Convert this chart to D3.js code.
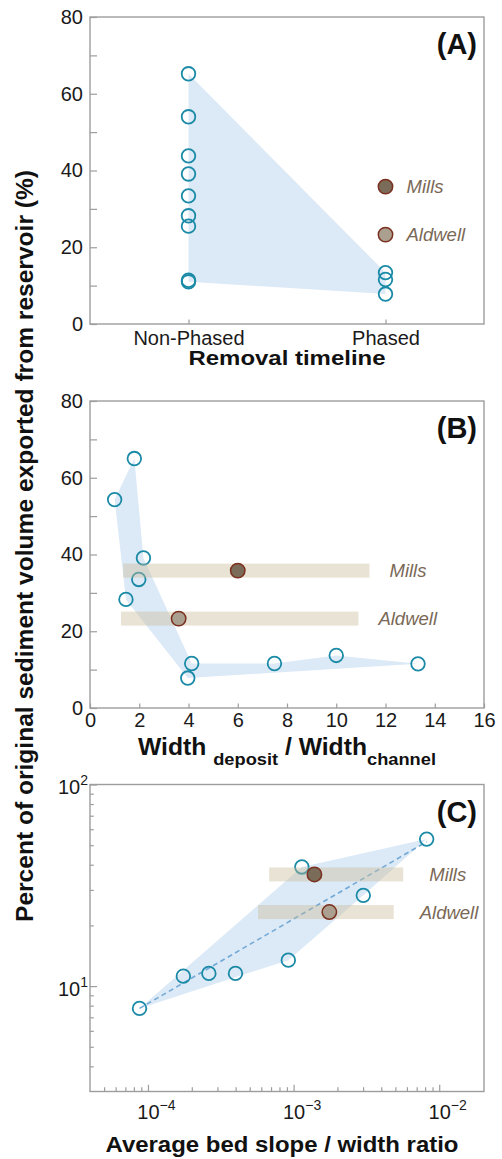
<!DOCTYPE html>
<html>
<head>
<meta charset="utf-8">
<script src="https://cdn.jsdelivr.net/npm/d3@7"></script>
<style>
body { margin: 0; background: #fff; }
svg { font-family: "Liberation Sans", Arial, Helvetica, sans-serif; }
</style>
</head>
<body>
<div id="chart"></div>
<script>
// (A) removal timeline
var timelineCats = ["Non-Phased", "Phased"];
var nonPhasedPct = [65.2, 54.0, 43.8, 39.1, 33.4, 28.2, 25.5, 11.4, 11.0];
var phasedPct = [13.4, 11.6, 7.8];
var pctTicks = [0, 20, 40, 60, 80];
var pctMinorTicks = [10, 30, 50, 70];

// the two highlighted reservoirs
var caseNames = ["Mills", "Aldwell"];
var casePct = [35.8, 23.3];

// (B) deposit width / channel width
var widthRatio = [1.0, 1.8, 2.17, 1.98, 1.46, 4.13, 3.97, 7.49, 10.0, 13.32];
var widthPct = [54.3, 65.0, 39.1, 33.5, 28.3, 11.6, 7.8, 11.6, 13.7, 11.5];
var widthOutline = [0, 1, 2, 5, 7, 8, 9, 6, 4];
var caseWidthRatio = [6.0, 3.6];
var caseWidthLo = [1.35, 1.26];
var caseWidthHi = [11.35, 10.9];
var widthTicks = [0, 2, 4, 6, 8, 10, 12, 14, 16];

// (C) bed slope / width ratio
var slopeRatio = [8.75e-5, 1.75e-4, 2.62e-4, 3.99e-4, 9.2e-4, 1.14e-3, 3.01e-3, 8.2e-3];
var slopePct = [7.75, 11.2, 11.56, 11.56, 13.45, 39.0, 28.2, 53.6];
var caseSlope = [1.39e-3, 1.76e-3];
var caseSlopeLo = [6.8e-4, 5.7e-4];
var caseSlopeHi = [5.66e-3, 4.87e-3];
var slopeFitX = [8.75e-5, 8.2e-3];
var slopeFitPct = [7.75, 52];
var slopeTicks = [1e-4, 1e-3, 1e-2];
var slopeMinorTicks = [5e-5, 6e-5, 7e-5, 8e-5, 9e-5, 2e-4, 3e-4, 4e-4, 5e-4, 6e-4, 7e-4, 8e-4, 9e-4,
	2e-3, 3e-3, 4e-3, 5e-3, 6e-3, 7e-3, 8e-3, 9e-3];
var logPctTicks = [10, 100];
var logPctMinorTicks = [4, 5, 6, 7, 8, 9, 20, 30, 40, 50, 60, 70, 80, 90];

var left = 90, right = 484, ph = 307;
var tops = [17, 401, 784.5];
var font = '"Liberation Sans", Arial, Helvetica, sans-serif';

var frameColor = '#9d9d9d';
var ptColor = '#1a8aa6';
var hullColor = '#dce9f6';
var barColor = 'rgba(200,188,152,0.42)';
var caseFill = ['#7b6b59', '#aba08f'];
var caseStroke = '#7b2f1f';
var caseText = '#7a6856';

var svg = d3.select('#chart').append('svg')
	.attr('width', 502)
	.attr('height', 1159);

function styleAxis(g) {
	g.attr('font-family', font);
	g.select('.domain').remove();
	g.selectAll('.tick line').attr('stroke', frameColor).attr('stroke-width', 1.2);
	g.selectAll('.tick text').attr('fill', '#1a1a1a').attr('font-size', '20px');
}

function drawFrame(g) {
	g.append('rect')
		.attr('x', left).attr('y', 0)
		.attr('width', right - left).attr('height', ph)
		.attr('fill', 'none')
		.attr('stroke', frameColor)
		.attr('stroke-width', 1.4);
}

function panelLabel(g, txt) {
	g.append('text')
		.attr('x', 477).attr('y', 37)
		.attr('text-anchor', 'end')
		.attr('font-size', '29px')
		.attr('font-weight', 'bold')
		.attr('fill', '#111')
		.text(txt);
}

function openCircles(g, pts) {
	g.selectAll('circle.open')
		.data(pts)
		.enter()
		.append('circle')
		.attr('class', 'open')
		.attr('cx', function (d) { return d[0]; })
		.attr('cy', function (d) { return d[1]; })
		.attr('r', 6.8)
		.attr('fill', 'none')
		.attr('stroke', ptColor)
		.attr('stroke-width', 1.8);
}

function caseCircles(g, xs, ys) {
	g.selectAll('circle.case')
		.data(caseNames)
		.enter()
		.append('circle')
		.attr('class', 'case')
		.attr('cx', function (d, i) { return xs[i]; })
		.attr('cy', function (d, i) { return ys[i]; })
		.attr('r', 7.2)
		.attr('fill', function (d, i) { return caseFill[i]; })
		.attr('stroke', caseStroke)
		.attr('stroke-width', 1.5);
}

function caseLabels(g, xs, ys) {
	g.selectAll('text.case')
		.data(caseNames)
		.enter()
		.append('text')
		.attr('class', 'case')
		.attr('x', function (d, i) { return xs[i]; })
		.attr('y', function (d, i) { return ys[i]; })
		.attr('dy', '0.36em')
		.attr('font-size', '18.5px')
		.attr('font-style', 'italic')
		.attr('fill', caseText)
		.text(function (d) { return d; });
}

function caseBars(g, x, y, lo, hi) {
	g.selectAll('rect.bar')
		.data(caseNames)
		.enter()
		.append('rect')
		.attr('class', 'bar')
		.attr('x', function (d, i) { return x(lo[i]); })
		.attr('width', function (d, i) { return x(hi[i]) - x(lo[i]); })
		.attr('y', function (d, i) { return y(casePct[i]) - 7; })
		.attr('height', 14)
		.attr('fill', barColor);
}

// ---------- panel A ----------
var gA = svg.append('g').attr('transform', 'translate(0,' + tops[0] + ')');
var xA = d3.scalePoint().domain(timelineCats).range([left, right]).padding(0.5);
var yA = d3.scaleLinear().domain([0, 80]).range([ph, 0]);

var ptsA = nonPhasedPct.map(function (v) { return [xA('Non-Phased'), yA(v)]; })
	.concat(phasedPct.map(function (v) { return [xA('Phased'), yA(v)]; }));

gA.append('path')
	.attr('d', 'M' + d3.polygonHull(ptsA).join('L') + 'Z')
	.attr('fill', hullColor);
openCircles(gA, ptsA);
caseCircles(gA, caseNames.map(function () { return xA('Phased'); }), casePct.map(yA));
caseLabels(gA, caseNames.map(function () { return xA('Phased') + 21; }), casePct.map(yA));
drawFrame(gA);

gA.append('g').attr('transform', 'translate(' + left + ',0)')
	.call(d3.axisLeft(yA).tickValues(pctTicks).tickSize(-7).tickPadding(7))
	.call(styleAxis);
gA.append('g').attr('transform', 'translate(' + left + ',0)')
	.call(d3.axisLeft(yA).tickValues(pctMinorTicks).tickSize(-7).tickFormat(''))
	.call(styleAxis);
gA.append('g').attr('transform', 'translate(0,' + ph + ')')
	.call(d3.axisBottom(xA).tickSize(-4.5).tickPadding(7))
	.call(styleAxis);

gA.append('text')
	.attr('x', 287).attr('y', ph + 41)
	.attr('text-anchor', 'middle')
	.attr('font-size', '21px')
	.attr('font-weight', 'bold')
	.attr('fill', '#111')
	.attr('textLength', 197)
	.attr('lengthAdjust', 'spacingAndGlyphs')
	.text('Removal timeline');
panelLabel(gA, '(A)');

// ---------- panel B ----------
var gB = svg.append('g').attr('transform', 'translate(0,' + tops[1] + ')');
var xB = d3.scaleLinear().domain([0, 16]).range([left, right]);
var yB = d3.scaleLinear().domain([0, 80]).range([ph, 0]);

var ptsB = widthRatio.map(function (v, i) { return [xB(v), yB(widthPct[i])]; });

gB.append('path')
	.attr('d', 'M' + widthOutline.map(function (i) { return ptsB[i]; }).join('L') + 'Z')
	.attr('fill', hullColor);
openCircles(gB, ptsB);
caseBars(gB, xB, yB, caseWidthLo, caseWidthHi);
caseCircles(gB, caseWidthRatio.map(xB), casePct.map(yB));
caseLabels(gB, caseWidthHi.map(function (v) { return xB(v) + 20; }), casePct.map(yB));
drawFrame(gB);

gB.append('g').attr('transform', 'translate(' + left + ',0)')
	.call(d3.axisLeft(yB).tickValues(pctTicks).tickSize(-7).tickPadding(7))
	.call(styleAxis);
gB.append('g').attr('transform', 'translate(' + left + ',0)')
	.call(d3.axisLeft(yB).tickValues(pctMinorTicks).tickSize(-7).tickFormat(''))
	.call(styleAxis);
gB.append('g').attr('transform', 'translate(0,' + ph + ')')
	.call(d3.axisBottom(xB).tickValues(widthTicks).tickSize(-4.5).tickPadding(4.5))
	.call(styleAxis);

var tB = gB.append('text')
	.attr('x', 287).attr('y', ph + 47)
	.attr('text-anchor', 'middle')
	.attr('font-weight', 'bold')
	.attr('fill', '#111')
	.attr('textLength', 298)
	.attr('lengthAdjust', 'spacingAndGlyphs');
tB.append('tspan').attr('font-size', '23px').text('Width ');
tB.append('tspan').attr('font-size', '17px').attr('dy', 10).text('deposit');
tB.append('tspan').attr('font-size', '23px').attr('dy', -10).text(' / Width');
tB.append('tspan').attr('font-size', '17px').attr('dy', 10).text('channel');
panelLabel(gB, '(B)');

// ---------- panel C ----------
var gC = svg.append('g').attr('transform', 'translate(0,' + tops[2] + ')');
var xC = d3.scaleLog().domain([4e-5, 2.03e-2]).range([left, right]);
var yC = d3.scaleLog().domain([3, 100]).range([ph, 0]);

var ptsC = slopeRatio.map(function (v, i) { return [xC(v), yC(slopePct[i])]; });

gC.append('path')
	.attr('d', 'M' + d3.polygonHull(ptsC).join('L') + 'Z')
	.attr('fill', hullColor);
gC.append('path')
	.attr('d', d3.line()
		.x(function (d) { return xC(d); })
		.y(function (d, i) { return yC(slopeFitPct[i]); })(slopeFitX))
	.attr('fill', 'none')
	.attr('stroke', '#72a9d6')
	.attr('stroke-width', 1.6)
	.attr('stroke-dasharray', '5,3.5');
openCircles(gC, ptsC);
caseBars(gC, xC, yC, caseSlopeLo, caseSlopeHi);
caseCircles(gC, caseSlope.map(xC), casePct.map(yC));
caseLabels(gC, caseSlopeHi.map(function (v) { return xC(v) + 26; }), casePct.map(yC));
drawFrame(gC);

function powerLabel(sel, up) {
	sel.each(function (d) {
		var t = d3.select(this).select('text').text('10');
		t.append('tspan')
			.attr('font-size', '14px')
			.attr('dy', up)
			.text(String(Math.round(Math.log10(d))).replace('-', '\u2212'));
	});
}

gC.append('g').attr('transform', 'translate(' + left + ',0)')
	.call(d3.axisLeft(yC).tickValues(logPctTicks).tickSize(-7).tickPadding(2).tickFormat(''))
	.call(styleAxis)
	.call(function (g) {
		g.selectAll('.tick text').attr('dy', '0.45em');
		powerLabel(g.selectAll('.tick'), -9);
	});
gC.append('g').attr('transform', 'translate(' + left + ',0)')
	.call(d3.axisLeft(yC).tickValues(logPctMinorTicks).tickSize(-3.8).tickFormat(''))
	.call(styleAxis);
gC.append('g').attr('transform', 'translate(0,' + ph + ')')
	.call(d3.axisBottom(xC).tickValues(slopeTicks).tickSize(-6.7).tickPadding(13).tickFormat(''))
	.call(styleAxis)
	.call(function (g) {
		g.selectAll('.tick text').attr('dx', '0.4em');
		powerLabel(g.selectAll('.tick'), -9);
	});
gC.append('g').attr('transform', 'translate(0,' + ph + ')')
	.call(d3.axisBottom(xC).tickValues(slopeMinorTicks).tickSize(-4.3).tickFormat(''))
	.call(styleAxis);

gC.append('text')
	.attr('x', 282).attr('y', ph + 60)
	.attr('text-anchor', 'middle')
	.attr('font-size', '22.5px')
	.attr('font-weight', 'bold')
	.attr('fill', '#111')
	.attr('textLength', 353)
	.attr('lengthAdjust', 'spacingAndGlyphs')
	.text('Average bed slope / width ratio');
panelLabel(gC, '(C)');

// shared y title
svg.append('text')
	.attr('transform', 'translate(33,546) rotate(-90)')
	.attr('text-anchor', 'middle')
	.attr('font-size', '24px')
	.attr('font-weight', 'bold')
	.attr('fill', '#111')
	.attr('textLength', 752)
	.attr('lengthAdjust', 'spacingAndGlyphs')
	.text('Percent of original sediment volume exported from reservoir (%)');
</script>
</body>
</html>
